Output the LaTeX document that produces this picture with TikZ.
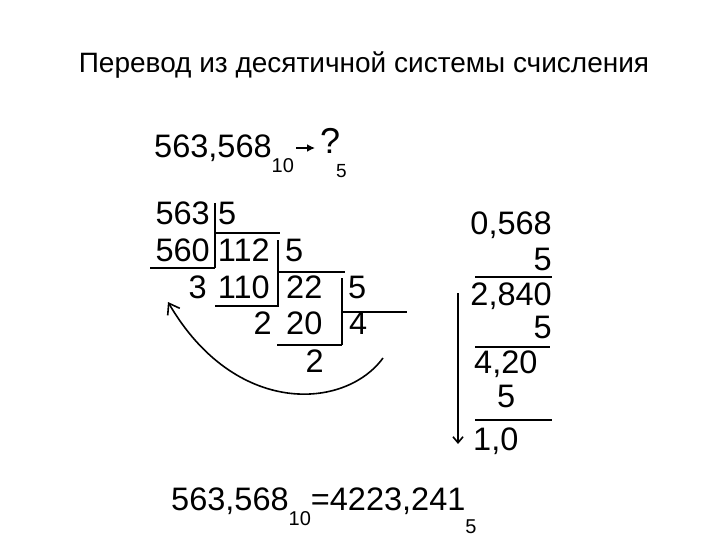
\documentclass[tikz,border=0pt]{standalone}
\usepackage{fontspec}
\setmainfont{Liberation Sans}
\usetikzlibrary{arrows.meta}
\newcommand\subsz{\fontsize{20}{22}\selectfont}
\begin{document}
\begin{tikzpicture}[x=1pt,y=-1pt,
  big/.style={font=\fontsize{32.5}{36}\selectfont,inner sep=0pt},
  ttl/.style={font=\fontsize{28}{32}\selectfont,inner sep=0pt},
  sml/.style={font=\fontsize{19}{22}\selectfont,inner sep=0pt},
  rule/.style={line width=2.8pt},
  bar/.style={line width=2.4pt},
  arr/.style={line width=1.6pt}]
\useasboundingbox (0,0) rectangle (720,540);
% title
\node[ttl,anchor=base] (title) at (364,73) {Перевод из десятичной системы счисления};
% top line
\node[big,anchor=base west] (top) at (154,158) {563,568\raisebox{-15pt}{\subsz 10}};
\coordinate (as) at (296,148);
\coordinate (ae) at (315,148);
\draw[line width=2pt,-{Latex[length=8pt,width=8pt]}] (as) -- (ae);
\node[font=\fontsize{36}{40}\selectfont,inner sep=0pt,anchor=base west] (q) at (320,154) {?};
\node[sml,anchor=base west] (q5) at (336,178) {5};
% division
\node[big,anchor=base east] (a1) at (210,225) {563};
\node[big,anchor=base west] (b1) at (218,225) {5};
\node[big,anchor=base east] (a2) at (210,261) {560};
\node[big,anchor=base east] (b2) at (270,261) {112};
\node[big,anchor=base west] (c2) at (285,261) {5};
\node[big,anchor=base east] (a3) at (207,298) {3};
\node[big,anchor=base east] (b3) at (270,298) {110};
\node[big,anchor=base west] (c3) at (286,298) {22};
\node[big,anchor=base west] (d3) at (348,298) {5};
\node[big,anchor=base east] (b4) at (272,334) {2};
\node[big,anchor=base west] (c4) at (286,334) {20};
\node[big,anchor=base west] (d4) at (349,334) {4};
\node[big,anchor=base east] (c5) at (324,372) {2};
% division lines
\draw[bar] (215,203) -- (215,268);
\draw[rule] (215,233) -- (280,233);
\draw[rule] (150,268) -- (215,268);
\draw[bar] (278,240) -- (278,307);
\draw[rule] (278,272) -- (345,272);
\draw[rule] (215,306) -- (278,306);
\draw[bar] (342,278) -- (342,345);
\draw[rule] (342,312) -- (407,312);
\draw[rule] (277,345) -- (342,345);
% curved arrow
\coordinate (cs) at (383,358);
\coordinate (ce) at (168,302);
\draw[arr,-{Straight Barb[length=10pt,width=14pt]}] (cs) .. controls (345,410) and (235,417) .. (ce);
% right column
\node[big,anchor=base east] (r1) at (552,235) {0,568};
\node[big,anchor=base east] (r2) at (552,270) {5};
\draw[rule] (475,277) -- (552,277);
\node[big,anchor=base east] (r3) at (552,305) {2,840};
\node[big,anchor=base east] (r4) at (552,338) {5};
\draw[rule] (475,347) -- (550,347);
\node[big,anchor=base west] (r5) at (474,373) {4,20};
\node[big,anchor=base west] (r6) at (497,407) {5};
\draw[rule] (475,420) -- (552,420);
\node[big,anchor=base west] (r7) at (473,450) {1,0};
\coordinate (vs) at (458,293);
\coordinate (ve) at (458,444);
\draw[arr,-{Straight Barb[length=6pt,width=10pt]}] (vs) -- (ve);
% result
\node[big,anchor=base west] (res) at (171,510) {563,568\raisebox{-15pt}{\subsz 10}=4223,241\raisebox{-23pt}{\subsz 5}};
\end{tikzpicture}
\end{document}
